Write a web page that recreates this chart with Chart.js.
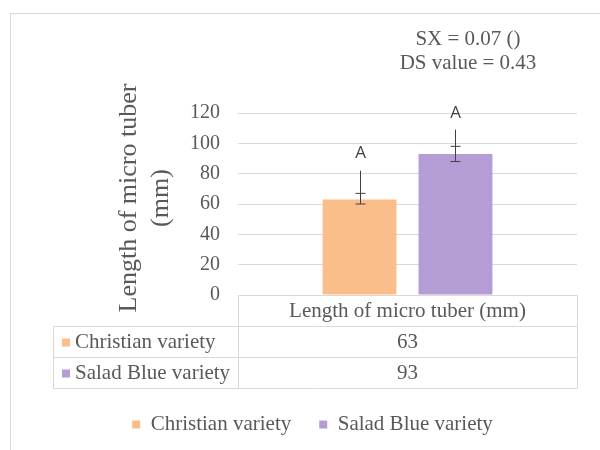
<!DOCTYPE html>
<html>
<head>
<meta charset="utf-8">
<script src="https://cdn.jsdelivr.net/npm/chart.js@4.4.1/dist/chart.umd.min.js"></script>
<style>
  html, body { margin: 0; padding: 0; background: #fff; }
  #wrap { width: 600px; height: 450px; }
</style>
</head>
<body>
<div id="wrap"><canvas id="chart" width="600" height="450"></canvas></div>
<script>
const categories = ['Length of micro tuber (mm)'];
const seriesNames = ['Christian variety', 'Salad Blue variety'];
const christianValues = [63];
const saladValues = [93];
const errLow = [60, 88];
const errHigh = [67, 98];
const errTop = [82, 109];
const letters = ['A', 'A'];
const yTicks = [0, 20, 40, 60, 80, 100, 120];
const yTitle = ['Length of micro tuber', '(mm)'];
const statLines = ['SX = 0.07 ()', 'DS value = 0.43'];

const colors = ['#F9BE89', '#B49CD5'];
const textGray = '#595959';
const lineGray = '#d9d9d9';
const serif = '"Liberation Serif", "Times New Roman", serif';

// error bars, letters, data table, axis title and the stat text
const extras = {
  id: 'extras',
  afterLayout(chart) {
    // legend sits a bit right of centre in the original
    chart.legend.left += 24;
    chart.legend.right += 24;
  },
  afterDraw(chart) {
    const ctx = chart.ctx;
    const y = chart.scales.y;
    const area = chart.chartArea;

    // frame
    ctx.save();
    ctx.strokeStyle = lineGray;
    ctx.lineWidth = 1;
    ctx.strokeRect(10.5, 13.5, 620, 460);

    // error bars and letters
    chart.data.datasets.forEach((ds, i) => {
      const bar = chart.getDatasetMeta(i).data[0];
      const x = Math.round(bar.x) + 0.5;
      const yLo = y.getPixelForValue(errLow[i]);
      const yHi = y.getPixelForValue(errHigh[i]);
      const yTop = y.getPixelForValue(errTop[i]);
      ctx.strokeStyle = '#404040';
      ctx.lineWidth = 1;
      ctx.beginPath();
      ctx.moveTo(x, yLo);
      ctx.lineTo(x, yTop);
      ctx.moveTo(x - 5, yLo);
      ctx.lineTo(x + 5, yLo);
      ctx.moveTo(x - 5, yHi);
      ctx.lineTo(x + 5, yHi);
      ctx.stroke();
      ctx.fillStyle = '#404040';
      ctx.font = '17px "Open Sans", "Liberation Sans", sans-serif';
      ctx.textAlign = 'center';
      ctx.textBaseline = 'middle';
      ctx.fillText(letters[i], x, yTop - 17);
    });

    // data table under the plot
    const left = 53;
    const top = area.bottom;
    const rowH = 31;
    const rows = 1 + seriesNames.length;
    ctx.strokeStyle = lineGray;
    ctx.beginPath();
    ctx.moveTo(area.left + 0.5, top + 0.5);
    ctx.lineTo(area.right + 0.5, top + 0.5);
    ctx.lineTo(area.right + 0.5, top + rows * rowH + 0.5);
    ctx.lineTo(left + 0.5, top + rows * rowH + 0.5);
    ctx.lineTo(left + 0.5, top + rowH + 0.5);
    ctx.lineTo(area.right + 0.5, top + rowH + 0.5);
    ctx.moveTo(left + 0.5, top + 2 * rowH + 0.5);
    ctx.lineTo(area.right + 0.5, top + 2 * rowH + 0.5);
    ctx.moveTo(area.left + 0.5, top + 0.5);
    ctx.lineTo(area.left + 0.5, top + rows * rowH + 0.5);
    ctx.stroke();

    const colX = (area.left + area.right) / 2;
    ctx.font = '21px ' + serif;
    ctx.fillStyle = textGray;
    ctx.textBaseline = 'middle';
    ctx.textAlign = 'center';
    ctx.fillText(categories[0], colX, top + rowH / 2 + 1);
    const values = [christianValues, saladValues];
    seriesNames.forEach((name, i) => {
      const cy = top + rowH * (i + 1) + rowH / 2 + 1;
      ctx.fillStyle = colors[i];
      ctx.fillRect(left + 9, cy - 4, 8, 8);
      ctx.fillStyle = textGray;
      ctx.textAlign = 'left';
      ctx.fillText(name, left + 22, cy);
      ctx.textAlign = 'center';
      ctx.fillText(String(values[i][0]), colX, cy);
    });

    // y axis title, two lines
    ctx.save();
    ctx.translate(129, 198);
    ctx.rotate(-Math.PI / 2);
    ctx.font = '26px ' + serif;
    ctx.fillStyle = textGray;
    ctx.textAlign = 'center';
    ctx.fillText(yTitle[0], 0, 0);
    ctx.fillText(yTitle[1], 0, 32);
    ctx.restore();

    // stat text
    ctx.font = '21px ' + serif;
    ctx.fillStyle = textGray;
    ctx.textAlign = 'center';
    ctx.fillText(statLines[0], 468, 39);
    ctx.fillText(statLines[1], 468, 63);
    ctx.restore();
  }
};

new Chart(document.getElementById('chart'), {
  type: 'bar',
  data: {
    labels: categories,
    datasets: [{
      label: seriesNames[0],
      data: christianValues,
      backgroundColor: colors[0],
      categoryPercentage: 0.566,
      barPercentage: 0.77
    }, {
      label: seriesNames[1],
      data: saladValues,
      backgroundColor: colors[1],
      categoryPercentage: 0.566,
      barPercentage: 0.77
    }]
  },
  plugins: [extras],
  options: {
    responsive: false,
    animation: false,
    layout: { padding: { top: 113, right: 23, bottom: 5, left: 0 } },
    plugins: {
      tooltip: { enabled: false },
      legend: {
        position: 'bottom',
        labels: {
          color: textGray,
          font: { family: serif, size: 21 },
          boxWidth: 8,
          boxHeight: 8,
          padding: 28
        }
      }
    },
    scales: {
      x: {
        grid: { display: false },
        border: { display: false },
        ticks: { display: false },
        afterFit(scale) { scale.height = 91; }
      },
      y: {
        min: 0,
        max: 120,
        afterBuildTicks(scale) { scale.ticks = yTicks.map(v => ({ value: v })); },
        afterFit(scale) { scale.width = 238; },
        grid: { color: lineGray, drawTicks: false },
        border: { display: false },
        ticks: {
          color: textGray,
          padding: 18,
          font: { family: serif, size: 20 }
        }
      }
    }
  }
});
</script>
</body>
</html>
